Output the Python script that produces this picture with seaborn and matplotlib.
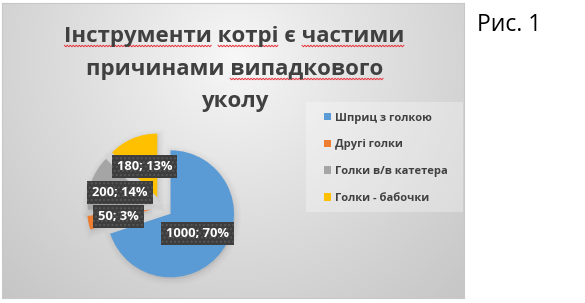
import numpy as np
import matplotlib
matplotlib.use("Agg")
import matplotlib.pyplot as plt
import seaborn as sns
from matplotlib.colors import to_rgb
from matplotlib.patches import Rectangle
from matplotlib.font_manager import FontProperties

# ---- data ----
categories = ["Шприц з голкою", "Другі голки", "Голки в/в катетера", "Голки - бабочки"]
values = [1000, 50, 200, 180]
title_lines = ["Інструменти котрі є частими", "причинами випадкового", "уколу"]
misspelled = {0: ["Інструменти", "котрі", "частими"], 1: ["випадкового"]}
fig_caption = "Рис. 1"

# ---- style ----
sns.set_theme(style="white")
plt.rcParams["font.family"] = ["Open Sans", "DejaVu Sans"]
palette = sns.color_palette(["#5B9BD5", "#ED7D31", "#A5A5A5", "#FFC000"])
TXT = "#404040"

W, H = 585, 303
fig = plt.figure(figsize=(W / 100, H / 100), dpi=100)
fig.patch.set_facecolor("white")

def px_axes(x0, y0, w, h):
    return fig.add_axes([x0 / W, 1 - (y0 + h) / H, w / W, h / H])

def fx(x):
    return x / W

def fy(y):
    return 1 - y / H

# chart area with radial gradient
cx0, cy0, cw, ch = 2, 3, 462, 295
bg = px_axes(cx0, cy0, cw, ch)
yy, xx = np.mgrid[0:ch, 0:cw]
d = np.sqrt((xx - 232) ** 2 + (yy - 55) ** 2)
t = np.clip(d / 330, 0, 1) ** 0.9
c1 = np.array(to_rgb("#f8f8f8"))
c2 = np.array(to_rgb("#c6c6c6"))
img = c1[None, None, :] * (1 - t[..., None]) + c2[None, None, :] * t[..., None]
bg.imshow(img, aspect="auto", interpolation="bilinear")
bg.set_xticks([]); bg.set_yticks([])
for s in bg.spines.values():
    s.set_color("#c8c8c8"); s.set_linewidth(0.8)

# overlay axes in pixel coordinates (for title squiggles)
ov = fig.add_axes([0, 0, 1, 1], facecolor="none")
ov.set_xlim(0, W); ov.set_ylim(H, 0); ov.axis("off")

# title, three lines
title_fp = FontProperties(family=["Open Sans", "DejaVu Sans"], weight="bold", size=16)
baselines = [42, 75, 107]
tcx = 234.5
renderer = fig.canvas.get_renderer()

def text_w(s):
    w, h, dsc = renderer.get_text_width_height_descent(s, title_fp, ismath=False)
    return w

for i, (line, yb) in enumerate(zip(title_lines, baselines)):
    ov.text(tcx, yb, line, ha="center", va="baseline", fontproperties=title_fp,
            color=TXT)
    lw = text_w(line)
    x_left = tcx - lw / 2
    for word in misspelled.get(i, []):
        k = line.index(word)
        x_end = x_left + text_w(line[:k + len(word)])
        x_start = x_end - text_w(word)
        xs = np.arange(x_start, x_end + 0.01, 1.5)
        ys = yb + 4 + np.where(np.arange(len(xs)) % 2 == 0, -0.8, 0.8)
        ov.plot(xs, ys, color="#e8323c", lw=0.7, solid_joinstyle="miter")

# caption outside the chart
fig.text(fx(509), fy(25), fig_caption, ha="center", va="center",
         fontsize=16.5, color="black")

# pie
R = 63.5
pcx, pcy = 161.5, 207.3
half = 80
ax = px_axes(pcx - half, pcy - half, 2 * half, 2 * half)
ax.set_xlim(-half / R, half / R)
ax.set_ylim(-half / R, half / R)
ax.axis("off")
total = sum(values)

def fmt(p):
    return f"{round(p * total / 100)}; {round(p)}%"

# very soft shadow underneath (slightly offset)
for lw_, a_ in [(9, 0.012), (6, 0.018), (3, 0.025)]:
    ws, _ = ax.pie(values, colors=["#000000"] * len(values), startangle=90,
                   counterclock=False, explode=[0.175] * len(values), radius=1.0,
                   center=(0.02, -0.03),
                   wedgeprops=dict(linewidth=lw_, edgecolor=(0, 0, 0, a_),
                                   facecolor=(0, 0, 0, a_)))

wedges, texts, autotexts = ax.pie(
    values, colors=palette, startangle=90, counterclock=False,
    explode=[0.175] * len(values), radius=1.0,
    autopct=fmt, pctdistance=0.52,
    wedgeprops=dict(linewidth=0),
    textprops=dict(color="white", fontsize=9.3, fontweight="bold"),
)
ax.set_xlim(-half / R, half / R)
ax.set_ylim(-half / R, half / R)
for at in autotexts:
    at.set_bbox(dict(boxstyle="square,pad=0.38", facecolor="#3d3d3d",
                     edgecolor="#575757", linewidth=0, hatch="...."))
    at.set_zorder(5)

# legend box + legend
fig.patches.append(Rectangle((fx(306), fy(212)), (463 - 306) / W, (212 - 102) / H,
                             transform=fig.transFigure, facecolor="white",
                             alpha=0.3, linewidth=0, zorder=1))
leg = fig.legend(wedges, categories, loc="upper left",
                 bbox_to_anchor=(fx(324), fy(112.5)),
                 frameon=False, fontsize=8,
                 handlelength=0.65, handleheight=0.65, handletextpad=0.38,
                 labelspacing=1.42, borderpad=0, borderaxespad=0)
for txt in leg.get_texts():
    txt.set_color(TXT); txt.set_fontweight("bold")

fig.savefig("out.png", dpi=100)
